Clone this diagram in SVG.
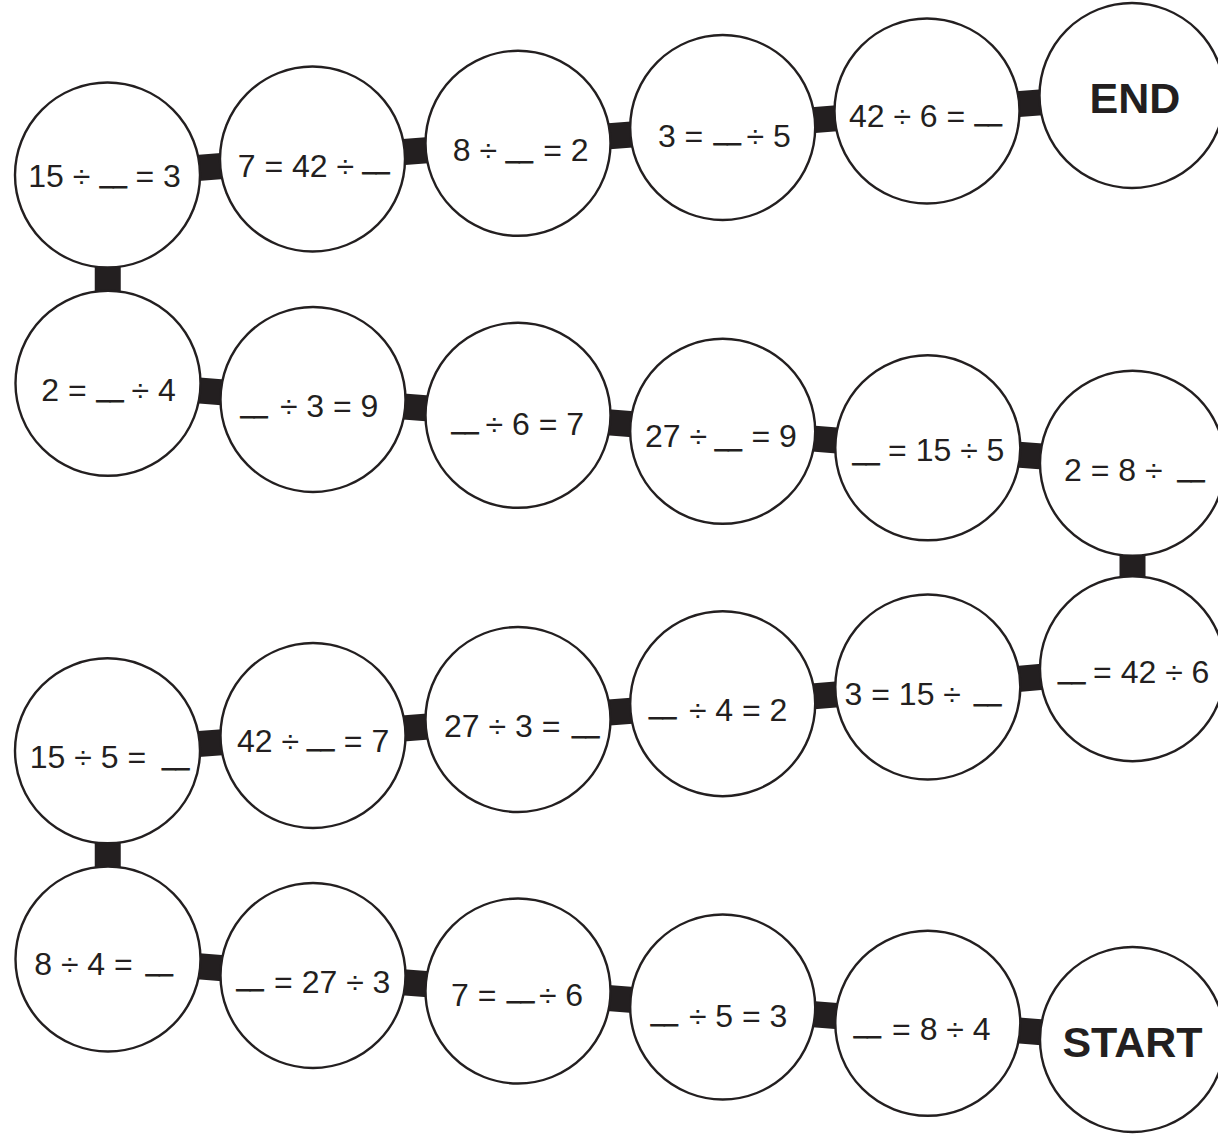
<svg xmlns="http://www.w3.org/2000/svg" width="1218" height="1139" viewBox="0 0 1218 1139">
<style>
.c{fill:#fff;stroke:#231f20;stroke-width:2.4}
.t{font-family:"Liberation Sans",Arial,sans-serif;font-size:32px;fill:#231f20}
.b{font-size:24px;stroke:#231f20;stroke-width:0.9}
.big{font-family:"Liberation Sans",Arial,sans-serif;font-weight:bold;font-size:43px;fill:#231f20;text-anchor:middle}
#connectors line{stroke:#231f20;stroke-width:26}
</style>
<rect width="1218" height="1139" fill="#fff"/>
<g id="connectors">
<line x1="1132.5" y1="1039.5" x2="927.8" y2="1023.3"/>
<line x1="927.8" y1="1023.3" x2="722.7" y2="1007"/>
<line x1="722.7" y1="1007" x2="518" y2="991"/>
<line x1="518" y1="991" x2="313" y2="975.5"/>
<line x1="313" y1="975.5" x2="108" y2="959"/>
<line x1="108" y1="959" x2="107.5" y2="750.8"/>
<line x1="107.5" y1="750.8" x2="313" y2="735.5"/>
<line x1="313" y1="735.5" x2="518" y2="719.5"/>
<line x1="518" y1="719.5" x2="722.7" y2="703.7"/>
<line x1="722.7" y1="703.7" x2="927.8" y2="687"/>
<line x1="927.8" y1="687" x2="1132.5" y2="668.7"/>
<line x1="1132.5" y1="668.7" x2="1132.5" y2="463.3"/>
<line x1="1132.5" y1="463.3" x2="927.8" y2="447.8"/>
<line x1="927.8" y1="447.8" x2="722.7" y2="431.3"/>
<line x1="722.7" y1="431.3" x2="518" y2="415.3"/>
<line x1="518" y1="415.3" x2="313" y2="399.5"/>
<line x1="313" y1="399.5" x2="108" y2="383.3"/>
<line x1="108" y1="383.3" x2="107.5" y2="175"/>
<line x1="107.5" y1="175" x2="312.5" y2="159"/>
<line x1="312.5" y1="159" x2="518" y2="143.3"/>
<line x1="518" y1="143.3" x2="722.7" y2="127.5"/>
<line x1="722.7" y1="127.5" x2="927" y2="111"/>
<line x1="927" y1="111" x2="1132" y2="95.5"/>
</g>
<g id="n-r1c1"><circle class="c" cx="107.5" cy="175" r="92.5"/><text class="t"><tspan x="28.2" y="187.3">15 ÷</tspan><tspan class="b" x="100" y="183">__</tspan><tspan x="135.5" y="187.3">= 3</tspan></text></g>
<g id="n-r1c2"><circle class="c" cx="312.5" cy="159" r="92.5"/><text class="t"><tspan x="237.7" y="176.7">7 = 42 ÷</tspan><tspan class="b" x="362.7" y="169.3">__</tspan></text></g>
<g id="n-r1c3"><circle class="c" cx="518" cy="143.3" r="92.5"/><text class="t"><tspan x="452.8" y="160.7">8 ÷</tspan><tspan class="b" x="506" y="157.7">__</tspan><tspan x="543.2" y="160.7">= 2</tspan></text></g>
<g id="n-r1c4"><circle class="c" cx="722.7" cy="127.5" r="92.5"/><text class="t"><tspan x="657.9" y="146.7">3 =</tspan><tspan class="b" x="714" y="140.3">__</tspan><tspan x="746.6" y="146.7">÷ 5</tspan></text></g>
<g id="n-r1c5"><circle class="c" cx="927" cy="111" r="92.5"/><text class="t"><tspan x="848.9" y="126.7">42 ÷ 6 =</tspan><tspan class="b" x="975" y="121">__</tspan></text></g>
<g id="n-end"><circle class="c" cx="1132" cy="95.5" r="92.5"/><text class="big" x="1135" y="112.7">END</text></g>
<g id="n-r2c1"><circle class="c" cx="108" cy="383.3" r="92.5"/><text class="t"><tspan x="41.3" y="400.7">2 =</tspan><tspan class="b" x="96.7" y="396.7">__</tspan><tspan x="131.6" y="400.7">÷ 4</tspan></text></g>
<g id="n-r2c2"><circle class="c" cx="313" cy="399.5" r="92.5"/><text class="t"><tspan class="b" x="240.7" y="412.7">__</tspan><tspan x="279.9" y="416.7">÷ 3 = 9</tspan></text></g>
<g id="n-r2c3"><circle class="c" cx="518" cy="415.3" r="92.5"/><text class="t"><tspan class="b" x="451.7" y="429.3">__</tspan><tspan x="485.6" y="435">÷ 6 = 7</tspan></text></g>
<g id="n-r2c4"><circle class="c" cx="722.7" cy="431.3" r="92.5"/><text class="t"><tspan x="645" y="446.7">27 ÷</tspan><tspan class="b" x="715" y="446">__</tspan><tspan x="751.4" y="446.7">= 9</tspan></text></g>
<g id="n-r2c5"><circle class="c" cx="927.8" cy="447.8" r="92.5"/><text class="t"><tspan class="b" x="852.7" y="460.3">__</tspan><tspan x="888.1" y="461">= 15 ÷ 5</tspan></text></g>
<g id="n-r2c6"><circle class="c" cx="1132.5" cy="463.3" r="92.5"/><text class="t"><tspan x="1064" y="480.7">2 = 8 ÷</tspan><tspan class="b" x="1177.7" y="477">__</tspan></text></g>
<g id="n-r3c1"><circle class="c" cx="107.5" cy="750.8" r="92.5"/><text class="t"><tspan x="29.8" y="768.3">15 ÷ 5 =</tspan><tspan class="b" x="162.3" y="765">__</tspan></text></g>
<g id="n-r3c2"><circle class="c" cx="313" cy="735.5" r="92.5"/><text class="t"><tspan x="236.9" y="751.7">42 ÷</tspan><tspan class="b" x="307.3" y="746">__</tspan><tspan x="343.8" y="751.7">= 7</tspan></text></g>
<g id="n-r3c3"><circle class="c" cx="518" cy="719.5" r="92.5"/><text class="t"><tspan x="444" y="737.3">27 ÷ 3 =</tspan><tspan class="b" x="572.3" y="733.3">__</tspan></text></g>
<g id="n-r3c4"><circle class="c" cx="722.7" cy="703.7" r="92.5"/><text class="t"><tspan class="b" x="649.3" y="713.7">__</tspan><tspan x="688.9" y="720.7">÷ 4 = 2</tspan></text></g>
<g id="n-r3c5"><circle class="c" cx="927.8" cy="687" r="92.5"/><text class="t"><tspan x="844.6" y="705">3 = 15 ÷</tspan><tspan class="b" x="974.3" y="701">__</tspan></text></g>
<g id="n-r3c6"><circle class="c" cx="1132.5" cy="668.7" r="92.5"/><text class="t"><tspan class="b" x="1058.3" y="679.3">__</tspan><tspan x="1093.1" y="683.3">= 42 ÷ 6</tspan></text></g>
<g id="n-r4c1"><circle class="c" cx="108" cy="959" r="92.5"/><text class="t"><tspan x="34.2" y="975">8 ÷ 4 =</tspan><tspan class="b" x="146" y="971">__</tspan></text></g>
<g id="n-r4c2"><circle class="c" cx="313" cy="975.5" r="92.5"/><text class="t"><tspan class="b" x="236.7" y="986">__</tspan><tspan x="274.1" y="992.7">= 27 ÷ 3</tspan></text></g>
<g id="n-r4c3"><circle class="c" cx="518" cy="991" r="92.5"/><text class="t"><tspan x="451.1" y="1006">7 =</tspan><tspan class="b" x="507.3" y="997.7">__</tspan><tspan x="538.9" y="1006">÷ 6</tspan></text></g>
<g id="n-r4c4"><circle class="c" cx="722.7" cy="1007" r="92.5"/><text class="t"><tspan class="b" x="651" y="1021">__</tspan><tspan x="688.9" y="1026.7">÷ 5 = 3</tspan></text></g>
<g id="n-r4c5"><circle class="c" cx="927.8" cy="1023.3" r="92.5"/><text class="t"><tspan class="b" x="854" y="1033.3">__</tspan><tspan x="892.1" y="1040">= 8 ÷ 4</tspan></text></g>
<g id="n-start"><circle class="c" cx="1132.5" cy="1039.5" r="92.5"/><text class="big" x="1132.5" y="1056.7">START</text></g>
</svg>
